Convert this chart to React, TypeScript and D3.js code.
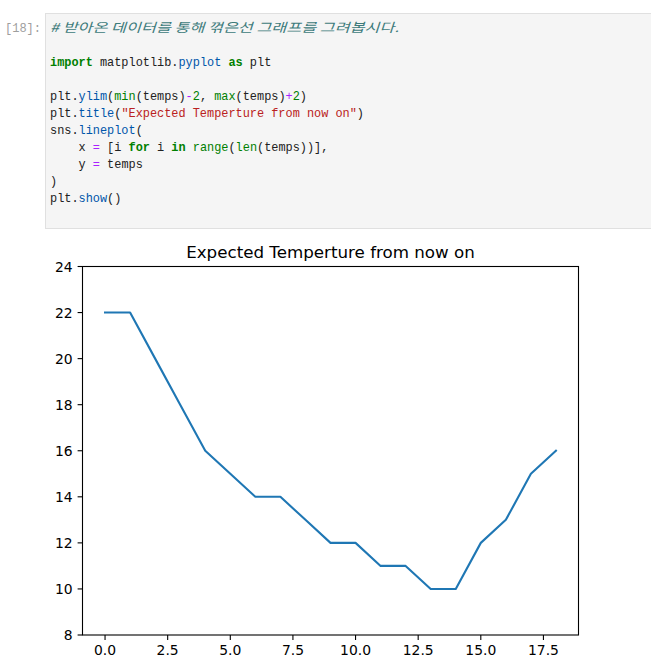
import React from "react";
import * as d3 from "d3";

const temps = [22, 22, 20, 18, 16, 15, 14, 14, 13, 12, 12, 11, 11, 10, 10, 12, 13, 15, 16];
const xIdx = temps.map((_, i) => i);
const xTicks = [0, 2.5, 5, 7.5, 10, 12.5, 15, 17.5];
const yTicks = [8, 10, 12, 14, 16, 18, 20, 22, 24];
const title = "Expected Temperture from now on";
const prompt = "[18]:";
const comment = "# 받아온 데이터를 통해 꺾은선 그래프를 그려봅시다.";

type Tok = [string, string];
const codeLines: Tok[][] = [
  [],
  [],
  [["import", "k"], [" matplotlib.", "v"], ["pyplot", "p"], [" ", "v"], ["as", "k"], [" plt", "v"]],
  [],
  [["plt.", "v"], ["ylim", "p"], ["(", "v"], ["min", "b"], ["(temps)", "v"], ["-", "o"], ["2", "n"], [", ", "v"], ["max", "b"], ["(temps)", "v"], ["+", "o"], ["2", "n"], [")", "v"]],
  [["plt.", "v"], ["title", "p"], ["(", "v"], ['"Expected Temperture from now on"', "s"], [")", "v"]],
  [["sns.", "v"], ["lineplot", "p"], ["(", "v"]],
  [["    x ", "v"], ["=", "o"], [" [i ", "v"], ["for", "k"], [" i ", "v"], ["in", "k"], [" ", "v"], ["range", "b"], ["(", "v"], ["len", "b"], ["(temps))],", "v"]],
  [["    y ", "v"], ["=", "o"], [" temps", "v"]],
  [[")", "v"]],
  [["plt.", "v"], ["show", "p"], ["()", "v"]],
];

const tokStyle: Record<string, React.CSSProperties> = {
  k: { fill: "#008000", fontWeight: "bold" },
  b: { fill: "#008000" },
  n: { fill: "#008000" },
  o: { fill: "#AA22FF" },
  s: { fill: "#BA2121" },
  c: { fill: "#3D7B7B", fontStyle: "italic" },
  p: { fill: "#0055AA" },
  v: { fill: "#212121" },
};

export default function App() {
  const left = 82.5, right = 578.5, top = 266.5, bottom = 635;
  const x = d3.scaleLinear().domain([-0.9, 18.9]).range([left, right]);
  const y = d3.scaleLinear().domain([8, 24]).range([bottom, top]);
  const line = d3.line<number>().x((_, i) => x(xIdx[i])).y((d) => y(d));
  const font = "'DejaVu Sans', sans-serif";
  const tickFs = 13.9;

  return (
    <svg width={651} height={671} style={{ position: "absolute", left: 0, top: 0, background: "#fff" }}>
      {/* code cell */}
      <text x={5} y={32} fontFamily="'Liberation Mono', monospace" fontSize={12} fill="#9E9E9E">{prompt}</text>
      <rect x={45.5} y={13.5} width={610} height={215} fill="#F5F5F5" stroke="#E0E0E0" strokeWidth={1} />
      <text x={50} y={32} fontFamily="'Noto Sans CJK KR', monospace" fontSize={12.5} fill="#3D7B7B" fontStyle="italic" textLength={349} lengthAdjust="spacingAndGlyphs">{comment}</text>
      {codeLines.map((toks, li) => (
        <text key={li} x={50} y={32 + li * 17} fontFamily="'Liberation Mono', 'Noto Sans CJK KR', monospace" fontSize={11.9} xmlSpace="preserve" style={{ whiteSpace: "pre" }}>
          {toks.map((t, ti) => (
            <tspan key={ti} style={tokStyle[t[1]]}>{t[0]}</tspan>
          ))}
        </text>
      ))}

      {/* chart */}
      <text x={(left + right) / 2} y={258} textAnchor="middle" fontFamily={font} fontSize={16.7} fill="#000">{title}</text>
      <path d={line(temps) || ""} fill="none" stroke="#1f77b4" strokeWidth={2.1} strokeLinejoin="round" strokeLinecap="square" />
      <rect x={left} y={top} width={right - left} height={bottom - top} fill="none" stroke="#000" strokeWidth={1.1} />
      {yTicks.map((t) => (
        <g key={"y" + t}>
          <line x1={left - 4.9} x2={left} y1={y(t)} y2={y(t)} stroke="#000" strokeWidth={1.1} />
          <text x={left - 9.8} y={y(t)} dy="0.36em" textAnchor="end" fontFamily={font} fontSize={tickFs} fill="#000">{t}</text>
        </g>
      ))}
      {xTicks.map((t) => (
        <g key={"x" + t}>
          <line x1={x(t)} x2={x(t)} y1={bottom} y2={bottom + 4.9} stroke="#000" strokeWidth={1.1} />
          <text x={x(t)} y={bottom + 9.8} dy="0.76em" textAnchor="middle" fontFamily={font} fontSize={tickFs} fill="#000">{t.toFixed(1)}</text>
        </g>
      ))}
    </svg>
  );
}
